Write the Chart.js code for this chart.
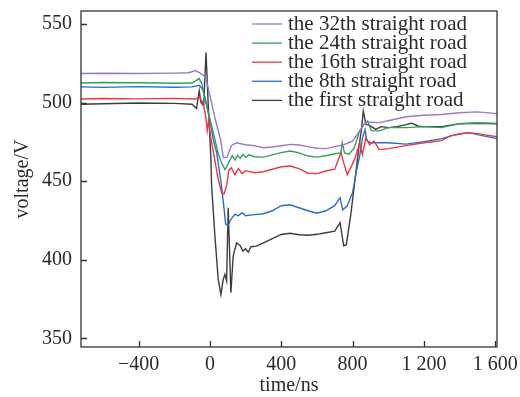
<!DOCTYPE html>
<html>
<head>
<meta charset="utf-8">
<script src="https://cdn.jsdelivr.net/npm/chart.js@4/dist/chart.umd.min.js"></script>
<style>
  html, body { margin: 0; padding: 0; background: #fff; }
  #wrap { width: 520px; height: 397px; }
</style>
</head>
<body>
<div id="wrap"><canvas id="voltageChart" width="520" height="397"></canvas></div>
<script>
// [time ns, voltage V]
const road32 = [[-723, 518.5], [-600, 518.7], [-400, 518.5], [-200, 518.8], [-120, 519], [-80, 520.4], [-50, 518.5],
    [-30, 516.6], [-20, 514.6], [0, 504.5], [30, 489.4], [60, 476.4], [75, 465], [95, 465], [120, 472.6], [150, 474.5],
    [200, 473.2], [250, 472.6], [300, 471.3], [350, 471.8], [400, 472.6], [450, 473.4], [500, 473], [550, 472], [600, 471],
    [650, 470.7], [700, 472], [750, 473.2], [800, 475.5], [840, 482], [870, 487.3], [900, 487.6], [950, 487.3],
    [1000, 488.5], [1100, 491], [1200, 492], [1300, 492.4], [1400, 493.6], [1500, 494.1], [1610, 493]];

const road24 = [[-723, 512.5], [-600, 512.8], [-400, 512.6], [-200, 512.3], [-100, 512.5], [-60, 515.3], [-45, 512],
    [-28, 502.1], [0, 489.4], [28, 476.6], [45, 468.2], [65, 461.8], [85, 457.3], [105, 461.8], [125, 466.2], [140, 463.5],
    [155, 466.5], [170, 464.5], [185, 467], [200, 465.2], [220, 466.8], [250, 465.6], [300, 465.3], [400, 468.2],
    [450, 469.2], [500, 468], [550, 466], [600, 465.3], [650, 466.2], [700, 467.5], [735, 468], [742, 474.5], [755, 468],
    [780, 467.2], [810, 471.3], [840, 482], [865, 486], [885, 488.3], [905, 482.2], [950, 482], [1000, 484.1],
    [1100, 484.1], [1200, 484.7], [1300, 484.1], [1400, 486.6], [1500, 487.1], [1610, 486.8]];

const road16 = [[-723, 502.3], [-600, 502.6], [-400, 502.4], [-200, 502.7], [-80, 502.3], [-60, 503.6], [-40, 500],
    [-25, 492.4], [-15, 482.2], [-8, 488.5], [5, 477.7], [25, 465], [45, 452.2], [65, 442.7], [80, 442], [95, 447.8],
    [105, 456.7], [120, 458.6], [140, 454.1], [160, 458], [180, 454.8], [200, 456.7], [250, 455.4], [300, 456],
    [400, 459.2], [450, 459.7], [500, 458], [550, 455.1], [600, 454.8], [650, 456.5], [700, 457.6], [735, 468.2],
    [750, 461.8], [770, 454.1], [790, 458.6], [815, 465], [840, 474.5], [855, 466.9], [875, 477.7], [895, 473.2],
    [920, 475.5], [950, 470.1], [1000, 470.7], [1100, 472.6], [1200, 474.5], [1300, 475.8], [1350, 479], [1400, 479.9],
    [1450, 480.9], [1500, 480.3], [1610, 478.3]];

const road8 = [[-723, 510], [-600, 509.7], [-400, 510.2], [-200, 509.8], [-100, 510], [-60, 511], [-40, 508.3],
    [-20, 500], [0, 488.5], [20, 475.8], [38, 468.2], [65, 447.1], [80, 431.8], [88, 422.9], [100, 421.7], [120, 426.1],
    [140, 428.9], [160, 428], [180, 430], [200, 428], [250, 428.7], [300, 429.3], [350, 431.2], [400, 434.4], [450, 435],
    [500, 433.1], [550, 431.2], [600, 429.6], [650, 431.2], [700, 434.4], [730, 439.5], [745, 431.8], [770, 434.4],
    [800, 442.7], [820, 455.4], [840, 466.2], [855, 477.1], [870, 482.8], [880, 475.8], [900, 474.5], [950, 474.5],
    [1000, 474.5], [1100, 473.6], [1200, 475.2], [1300, 477.1], [1400, 480.3], [1450, 480.9], [1500, 479.6], [1610, 477.1]];

const road1 = [[-723, 499], [-600, 499.3], [-400, 499.8], [-200, 499.5], [-100, 499], [-75, 496.2], [-60, 507.6],
    [-50, 500], [-35, 498], [-22, 531.8], [-10, 500], [5, 466], [9.5, 447.1], [28, 415.3], [46.5, 387.5], [61.6, 377.9],
    [74.5, 387.5], [84, 390.7], [93.6, 386.6], [102.5, 433.1], [117.6, 379], [130.5, 402.4], [149.6, 410.8], [170, 408.9],
    [185, 405.5], [200, 407], [215, 404.8], [230, 408.3], [260, 408.7], [300, 410.8], [350, 413.4], [400, 416.1],
    [450, 416.9], [500, 415.9], [550, 415.6], [600, 416.2], [650, 417.2], [700, 418.2], [730, 423.6], [750, 408.9],
    [765, 409.6], [790, 428.7], [815, 452.2], [835, 471.3], [850, 483], [860, 494.7], [875, 486.2], [900, 485.2],
    [930, 483], [960, 484.7], [1000, 484.1], [1050, 484.7], [1100, 486], [1130, 486.9], [1170, 485], [1200, 484.7],
    [1300, 484.7], [1400, 486.6], [1500, 486.9], [1610, 486.6]];

const seriesNames = ['the 32th straight road', 'the 24th straight road', 'the 16th straight road',
    'the 8th straight road', 'the first straight road'];
const seriesColors = ['#9c78c8', '#35a060', '#ea3a40', '#2c6ccb', '#3d3d3d'];
const xTickValues = [-400, 0, 400, 800, 1200, 1600];
const yTickValues = [350, 400, 450, 500, 550];

const serif = "'Liberation Serif', 'Times New Roman', serif";
const ink = '#2a2a2a';

function toPoints(pairs) {
    return pairs.map(p => ({x: p[0], y: p[1]}));
}

function fmtTick(v) {
    let s = Math.abs(v) >= 1000 ? Math.floor(Math.abs(v) / 1000) + ' ' + String(Math.abs(v) % 1000).padStart(3, '0') : String(Math.abs(v));
    return v < 0 ? '\u2212' + s : s;
}

// frame, inward ticks and the legend inside the plot
const framePlugin = {
    id: 'frame',
    afterDraw(chart) {
        const {ctx, chartArea: a, scales} = chart;
        ctx.save();
        ctx.strokeStyle = '#333';
        ctx.lineWidth = 1.3;
        ctx.strokeRect(a.left, a.top, a.right - a.left, a.bottom - a.top);
        ctx.beginPath();
        scales.x.ticks.forEach(t => {
            const px = Math.round(scales.x.getPixelForValue(t.value)) + 0.5;
            ctx.moveTo(px, a.bottom);
            ctx.lineTo(px, a.bottom - 6);
        });
        scales.y.ticks.forEach(t => {
            const py = Math.round(scales.y.getPixelForValue(t.value)) + 0.5;
            ctx.moveTo(a.left, py);
            ctx.lineTo(a.left + 6, py);
        });
        ctx.stroke();

        ctx.font = '21px ' + serif;
        ctx.textBaseline = 'middle';
        ctx.fillStyle = ink;
        chart.data.datasets.forEach((ds, i) => {
            const y = 24 + i * 19.1;
            ctx.strokeStyle = ds.borderColor;
            ctx.lineWidth = 1.3;
            ctx.beginPath();
            ctx.moveTo(252, y);
            ctx.lineTo(282, y);
            ctx.stroke();
            ctx.fillText(ds.label, 288, y);
        });
        ctx.restore();
    }
};

const datasets = [road32, road24, road16, road8, road1].map((s, i) => ({
    label: seriesNames[i],
    data: toPoints(s),
    borderColor: seriesColors[i],
    borderWidth: 1.4,
    pointRadius: 0,
    tension: 0,
    fill: false
}));

new Chart(document.getElementById('voltageChart'), {
    type: 'line',
    data: {datasets: datasets},
    options: {
        responsive: false,
        animation: false,
        layout: {padding: {left: 0, top: 11, right: 23, bottom: 0}},
        plugins: {legend: {display: false}, tooltip: {enabled: false}},
        scales: {
            x: {
                type: 'linear',
                min: -723,
                max: 1610,
                afterBuildTicks: s => { s.ticks = xTickValues.map(v => ({value: v})); },
                afterFit: s => { s.height = 50; s.paddingLeft = 0; s.paddingRight = 0; },
                grid: {display: false, drawTicks: false},
                border: {display: false},
                ticks: {
                    padding: 6,
                    color: ink,
                    font: {family: serif, size: 20},
                    maxRotation: 0,
                    callback: v => fmtTick(v)
                },
                title: {display: true, text: 'time/ns', color: ink, font: {family: serif, size: 20, lineHeight: 1.1}, padding: 0}
            },
            y: {
                type: 'linear',
                min: 344.5,
                max: 558.3,
                afterBuildTicks: s => { s.ticks = yTickValues.map(v => ({value: v})); },
                afterFit: s => { s.width = 81; s.paddingTop = 0; s.paddingBottom = 0; },
                grid: {display: false, drawTicks: false},
                border: {display: false},
                ticks: {padding: 9, color: ink, font: {family: serif, size: 20}},
                title: {display: true, text: 'voltage/V', color: ink, font: {family: serif, size: 20, lineHeight: 1.2}, padding: {top: 11, bottom: 0}}
            }
        }
    },
    plugins: [framePlugin]
});
</script>
</body>
</html>
